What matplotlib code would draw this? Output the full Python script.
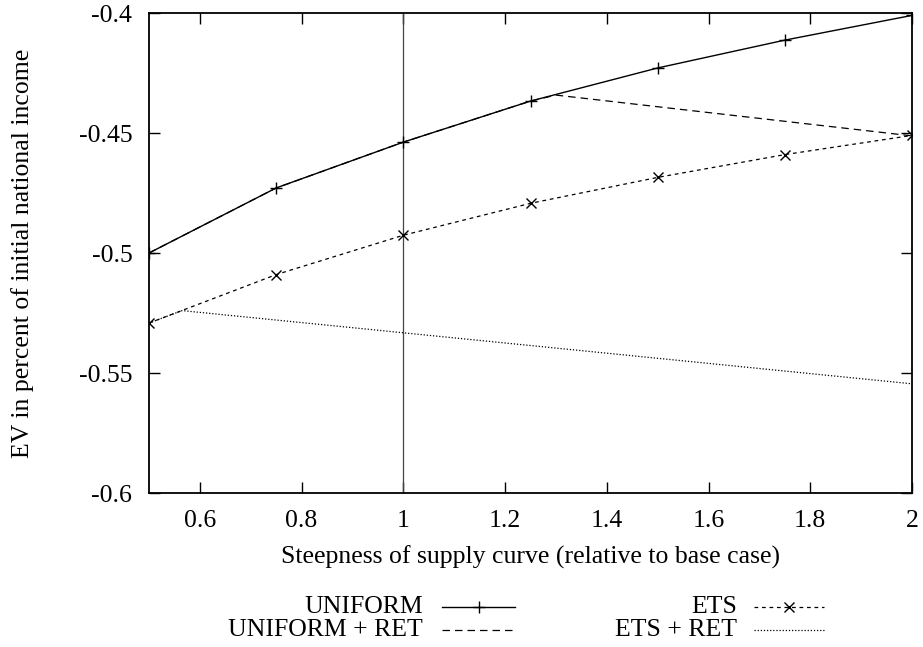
import matplotlib.pyplot as plt
from matplotlib.lines import Line2D

plt.rcParams['font.family'] = ['Liberation Serif', 'DejaVu Serif']
plt.rcParams['font.size'] = 18.5

# Data
steep = [0.5, 0.75, 1.0, 1.25, 1.5, 1.75, 2.0]
uniform = [-0.5000, -0.4729, -0.4538, -0.4367, -0.4229, -0.4113, -0.4010]
ets = [-0.5292, -0.5090, -0.4926, -0.4793, -0.4685, -0.4590, -0.4510]

steep_uret = [0.5, 0.75, 1.0, 1.25, 1.30, 2.0]
uniform_ret = [-0.5000, -0.4729, -0.4538, -0.4367, -0.4342, -0.4512]

steep_eret = [0.5, 0.565, 2.0]
ets_ret = [-0.5292, -0.5240, -0.5545]

xticks = [0.6, 0.8, 1, 1.2, 1.4, 1.6, 1.8, 2]
xlabels = ['0.6', '0.8', '1', '1.2', '1.4', '1.6', '1.8', '2']
yticks = [-0.6, -0.55, -0.5, -0.45, -0.4]
ylabels = ['-0.6', '-0.55', '-0.5', '-0.45', '-0.4']

W, H = 923.0, 647.0
fig = plt.figure(figsize=(9.23, 6.47), dpi=100)
ax = fig.add_axes([149 / W, 1 - 493 / H, (912 - 149) / W, (493 - 13) / H])

styles = {
    'UNIFORM': dict(color='black', lw=1.0, ls='-', marker='+', ms=8, mew=1.0),
    'UNIFORM + RET': dict(color='black', lw=0.9, ls=(0, (6, 4))),
    'ETS': dict(color='black', lw=0.9, ls=(0, (3, 3)), marker='x', ms=7, mew=1.0),
    'ETS + RET': dict(color='black', lw=0.9, ls=(0, (1, 1.5))),
}

ax.axvline(1.0, color='#444444', lw=0.9)
ax.plot(steep, uniform, **styles['UNIFORM'])
ax.plot(steep_uret, uniform_ret, **styles['UNIFORM + RET'])
ax.plot(steep, ets, **styles['ETS'])
ax.plot(steep_eret, ets_ret, **styles['ETS + RET'])

ax.set_xlim(0.5, 2.0)
ax.set_ylim(-0.6, -0.4)
ax.set_xticks(xticks)
ax.set_xticklabels(xlabels)
ax.set_yticks(yticks)
ax.set_yticklabels(ylabels)
ax.tick_params(direction='in', top=True, right=True, length=8, width=1.0)
ax.tick_params(axis='y', pad=12)
ax.tick_params(axis='x', pad=12)
for s in ax.spines.values():
    s.set_linewidth(1.3)

ax.set_xlabel('Steepness of supply curve (relative to base case)', labelpad=10)
ax.set_ylabel('EV in percent of initial national income', labelpad=32)

# legend drawn like gnuplot: text right aligned, sample to the right
entries = [
    ('UNIFORM', 423, 442, 515, 607),
    ('ETS', 737, 754, 824, 607),
    ('UNIFORM + RET', 423, 442, 515, 630),
    ('ETS + RET', 737, 754, 824, 630),
]
for name, tx, x0, x1, y in entries:
    fig.text(tx / W, 1 - y / H, name, ha='right', va='center')
    st = dict(styles[name])
    mk = st.pop('marker', None)
    ms = st.pop('ms', None)
    mew = st.pop('mew', None)
    fig.add_artist(Line2D([x0 / W, x1 / W], [1 - y / H, 1 - y / H], **st))
    if mk:
        fig.add_artist(Line2D([(x0 + x1) / 2 / W], [1 - y / H], marker=mk, ms=ms,
                              mew=mew, color='black', ls='none'))

fig.savefig('out.png', dpi=100)
